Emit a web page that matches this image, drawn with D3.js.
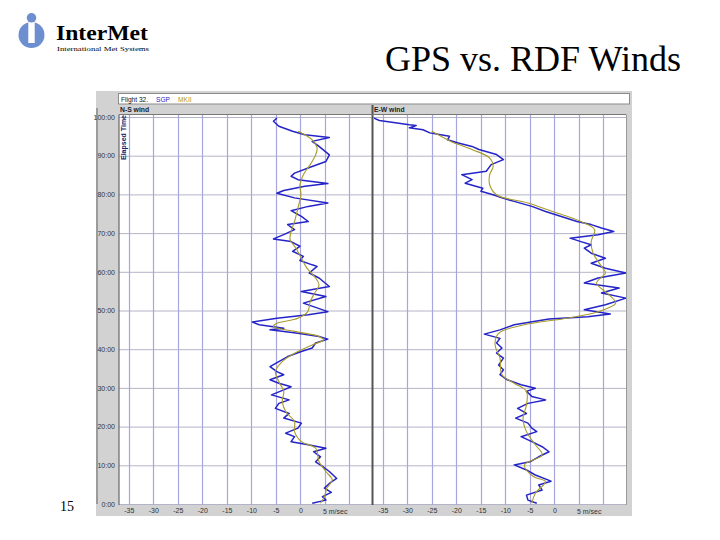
<!DOCTYPE html>
<html><head><meta charset="utf-8">
<script src="https://cdn.jsdelivr.net/npm/d3@7/dist/d3.min.js"></script>
<style>body{margin:0;background:#fff}svg{display:block}</style>
</head><body>
<script>
// ---- data ----
const timeTicks = [0,10,20,30,40,50,60,70,80,90,100];
const windTicks = [-35,-30,-25,-20,-15,-10,-5,0,5];
const gridWind = [-35,-30,-25,-20,-15,-10,-5,0,5,10];
const legendNames = ["SGP","MKII"];
const panelTitles = ["N-S wind","E-W wind"];
// [elapsed minutes, m/sec]
const nsSGP = [[99.7,-4.8],[98.9,-5.5],[97.6,-4.4],[96.3,-1.6],[95.4,0.9],[94.7,5.9],[93.7,2.4],[92.4,3.8],[90.2,5.9],[88.5,5.2],[87.2,2.4],[85.5,-1.2],[84.7,-1.9],[83.8,-0.5],[82.8,5.6],[82.1,0.9],[81.0,-3.4],[80.3,-4.8],[79.1,-1.2],[77.8,5.6],[76.9,1.6],[75.8,-1.9],[74.3,0.2],[73.0,1.6],[72.2,-2.6],[70.9,-1.2],[69.6,-3.4],[68.5,-5.5],[67.8,-1.9],[66.6,-0.1],[65.3,-1.6],[64.0,0.6],[62.9,-0.1],[61.8,2.4],[61.4,3.4],[59.7,1.8],[58.4,3.8],[56.2,5.9],[54.9,0.2],[53.6,5.2],[51.9,0.6],[49.7,5.6],[48.9,1.6],[48.0,-4.8],[47.0,-9.8],[46.3,-8.4],[45.4,-3.4],[45.0,-6.2],[44.1,-0.5],[43.3,3.8],[42.6,5.6],[41.6,3.1],[40.3,2.4],[39.4,0.2],[38.1,-2.6],[36.8,-4.4],[35.5,-6.2],[34.2,-4.8],[33.4,-3.4],[32.1,-6.2],[31.2,-4.4],[30.3,-1.9],[29.5,-3.4],[28.2,-5.9],[26.9,-2.3],[26.0,-4.4],[24.7,-5.1],[23.4,-2.3],[22.2,-3.4],[20.9,0.2],[19.6,-0.5],[18.3,-3.0],[17.4,-1.2],[16.1,-1.9],[15.3,1.6],[14.4,5.2],[13.5,2.7],[12.2,4.1],[10.9,3.1],[9.7,4.5],[8.4,5.9],[6.6,7.4],[5.3,5.9],[4.1,4.9],[3.0,6.3],[1.9,4.5],[1.0,5.2],[0.2,2.4]];
const nsMKII = [[96.3,-0.5],[94.1,2.4],[92.0,3.4],[90.2,3.1],[87.7,2.0],[85.1,0.6],[82.5,-0.1],[79.9,0.1],[76.5,-0.5],[73.0,-1.2],[70.4,-1.9],[68.3,-2.1],[66.1,-0.9],[63.5,0.2],[61.0,1.3],[58.4,3.1],[56.6,3.8],[54.5,2.9],[52.3,2.0],[49.7,1.5],[48.0,-0.5],[46.7,-4.8],[45.9,-5.5],[44.6,-1.2],[43.3,3.8],[42.4,4.7],[41.1,2.4],[39.4,-0.5],[36.8,-3.7],[34.2,-5.1],[31.6,-4.4],[29.1,-3.4],[26.5,-3.7],[23.9,-3.0],[21.3,-1.2],[18.7,-1.2],[16.1,0.2],[14.4,3.1],[10.9,3.8],[8.4,5.2],[6.2,6.5],[4.1,5.4],[1.9,4.9],[0.2,4.1]];
const ewSGP = [[99.7,-36.8],[99.1,-35.7],[98.9,-34.6],[98.0,-29.6],[97.8,-28.2],[97.2,-29.6],[96.7,-26.8],[95.9,-25.4],[95.4,-23.2],[95.0,-21.4],[94.1,-21.8],[93.3,-19.6],[92.4,-16.8],[91.6,-15.4],[90.3,-11.8],[89.0,-10.4],[87.7,-12.9],[86.0,-13.9],[85.1,-18.9],[83.8,-16.8],[82.9,-18.2],[81.6,-14.6],[80.8,-15.0],[79.9,-12.5],[79.1,-10.7],[78.2,-8.2],[76.9,-4.6],[75.6,-1.8],[74.3,1.4],[73.0,4.6],[72.2,7.5],[71.3,9.6],[70.4,12.1],[69.6,8.9],[68.7,3.2],[67.8,5.4],[67.0,7.5],[66.1,6.1],[64.8,7.5],[63.5,10.4],[62.2,7.5],[60.9,10.4],[59.7,14.6],[58.4,8.9],[57.1,6.1],[55.8,13.2],[54.5,9.6],[53.2,14.6],[51.5,10.4],[50.2,6.1],[49.1,11.4],[48.4,6.8],[47.8,-1.1],[47.2,-3.9],[46.3,-8.2],[45.0,-11.1],[43.9,-14.3],[42.8,-11.1],[41.6,-11.8],[40.3,-10.7],[39.0,-11.8],[37.7,-10.4],[35.9,-11.4],[34.7,-10.4],[33.4,-11.1],[32.1,-9.6],[30.8,-6.8],[29.9,-3.9],[29.1,-5.7],[27.8,-4.6],[26.9,-1.8],[26.0,-5.4],[24.7,-7.5],[23.4,-5.7],[22.2,-7.9],[20.9,-5.4],[19.6,-4.6],[18.7,-3.6],[17.4,-6.8],[16.1,-4.6],[14.8,-2.5],[13.5,-1.1],[12.2,-3.2],[10.9,-5.0],[10.1,-8.2],[8.8,-5.7],[7.5,-3.9],[5.9,-0.7],[4.9,-3.2],[3.6,-2.5],[2.3,-5.7],[1.0,-5.4],[0.2,-3.6]];
const ewMKII = [[96.3,-25.0],[93.7,-21.1],[91.6,-16.8],[89.4,-13.2],[87.2,-12.5],[85.1,-13.2],[82.5,-13.2],[79.9,-11.8],[77.8,-5.4],[75.6,-0.4],[73.0,5.4],[70.9,8.2],[67.8,7.5],[64.8,7.9],[61.4,9.6],[59.7,10.4],[57.1,8.6],[54.1,11.1],[51.9,12.5],[49.7,8.9],[48.0,2.5],[46.3,-6.1],[44.1,-11.4],[41.1,-12.1],[37.7,-11.1],[33.4,-10.7],[31.2,-8.2],[29.1,-5.7],[25.6,-5.7],[22.2,-6.4],[18.7,-5.7],[15.3,-3.9],[12.7,-2.5],[10.1,-6.1],[7.1,-4.3],[5.8,-1.8],[2.8,-3.9],[0.2,-4.6]];

// ---- drawing ----
const W = 720, H = 540;
const svg = d3.select("body").append("svg").attr("width", W).attr("height", H);
const sans = "'Liberation Sans', Arial, sans-serif";
const serif = "'Liberation Serif', 'Times New Roman', serif";
const SGPc = "#2424c8", MKc = "#a89a2c";

// logo
const logo = svg.append("g");
logo.append("circle").attr("cx", 31.5).attr("cy", 35).attr("r", 13).attr("fill", "#6d8fcf");
logo.append("rect").attr("x", 28.3).attr("y", 21.5).attr("width", 6.4).attr("height", 21.5).attr("fill", "#fff");
logo.append("circle").attr("cx", 31.5).attr("cy", 17.8).attr("r", 4.8).attr("fill", "#6d8fcf");
logo.append("text").attr("x", 56).attr("y", 40).attr("font-family", serif).attr("font-size", 21)
  .attr("font-weight", "bold").attr("textLength", 92).attr("lengthAdjust", "spacingAndGlyphs").text("InterMet");
logo.append("text").attr("x", 57).attr("y", 51).attr("font-family", serif).attr("font-size", 7)
  .attr("textLength", 92).attr("lengthAdjust", "spacingAndGlyphs").text("International Met Systems");

svg.append("text").attr("x", 385).attr("y", 71).attr("font-family", serif).attr("font-size", 36)
  .text("GPS vs. RDF Winds");
svg.append("text").attr("x", 60).attr("y", 511).attr("font-family", serif).attr("font-size", 14)
  .text("15");

// chart frame
svg.append("rect").attr("x", 96).attr("y", 91).attr("width", 536).attr("height", 425).attr("fill", "#d2d2d2");
svg.append("line").attr("x1", 97).attr("x2", 97).attr("y1", 108).attr("y2", 504).attr("stroke", "#888").attr("stroke-width", 1.5);
svg.append("rect").attr("x", 118.5).attr("y", 93.5).attr("width", 511).attr("height", 10.5)
  .attr("fill", "#fff").attr("stroke", "#8a8a8a");
const hdr = svg.append("text").attr("x", 121).attr("y", 101.5).attr("font-family", sans).attr("font-size", 6.6);
hdr.append("tspan").attr("fill", "#111").text("Flight 32.");
hdr.append("tspan").attr("x", 156).attr("fill", SGPc).text(legendNames[0]);
hdr.append("tspan").attr("x", 178).attr("fill", MKc).text(legendNames[1]);

const yS = d3.scaleLinear().domain([0, 100]).range([504, 117]);
const plotTop = 114.5, plotBottom = 505;
const panels = [
  {x0: 119, x1: 372, data: [nsSGP, nsMKII]},
  {x0: 373, x1: 626, data: [ewSGP, ewMKII]}
];

panels.forEach((p, i) => {
  const xS = d3.scaleLinear().domain([-37, 14.6]).range([p.x0, p.x1]);
  const g = svg.append("g");
  g.append("rect").attr("x", p.x0).attr("y", plotTop).attr("width", p.x1 - p.x0).attr("height", plotBottom - plotTop).attr("fill", "#fff");
  g.append("text").attr("x", p.x0 + 1).attr("y", 112).attr("font-family", sans).attr("font-size", 6.8)
    .attr("font-weight", "bold").attr("fill", "#222").text(panelTitles[i]);
  g.selectAll(".hg").data(timeTicks).join("line")
    .attr("x1", p.x0).attr("x2", p.x1).attr("y1", d => yS(d) + 0.5).attr("y2", d => yS(d) + 0.5)
    .attr("stroke", "#b4b4c8").attr("stroke-width", 1);
  g.selectAll(".vg").data(gridWind).join("line")
    .attr("x1", d => Math.round(xS(d)) + 0.5).attr("x2", d => Math.round(xS(d)) + 0.5)
    .attr("y1", plotTop).attr("y2", plotBottom)
    .attr("stroke", "#a6a6dc").attr("stroke-width", 1.2);
  const ax = d3.axisBottom(xS).tickValues(windTicks).tickSize(0).tickPadding(3)
    .tickFormat(d => d === 5 ? "" : String(d));
  const axg = g.append("g").attr("transform", `translate(0,${plotBottom})`).call(ax);
  axg.select(".domain").remove();
  axg.selectAll("text").attr("font-family", sans).attr("font-size", 7).attr("fill", "#333");
  g.append("text").attr("x", xS(5) - 2).attr("y", 513.5).attr("font-family", sans).attr("font-size", 7)
    .attr("fill", "#333").text("5 m/sec");
  const rough = d3.line().x(d => xS(d[1])).y(d => yS(d[0])).curve(d3.curveLinear);
  const smooth = d3.line().x(d => xS(d[1])).y(d => yS(d[0])).curve(d3.curveCatmullRom);
  g.append("path").datum(p.data[0]).attr("d", rough).attr("fill", "none").attr("stroke", SGPc)
    .attr("stroke-width", 1.5).attr("stroke-linejoin", "round");
  g.append("path").datum(p.data[1]).attr("d", smooth).attr("fill", "none").attr("stroke", MKc).attr("stroke-width", 1.1);
});

svg.append("line").attr("x1", 119).attr("x2", 119).attr("y1", plotTop).attr("y2", plotBottom).attr("stroke", "#666").attr("stroke-width", 1.2);
svg.append("line").attr("x1", 372.5).attr("x2", 372.5).attr("y1", 105).attr("y2", plotBottom).attr("stroke", "#555").attr("stroke-width", 2);
svg.append("line").attr("x1", 119).attr("x2", 626).attr("y1", plotTop).attr("y2", plotTop).attr("stroke", "#777").attr("stroke-width", 1);
svg.append("line").attr("x1", 626.5).attr("x2", 626.5).attr("y1", plotTop).attr("y2", plotBottom).attr("stroke", "#999").attr("stroke-width", 1);

const yax = d3.axisLeft(yS).tickValues(timeTicks).tickSize(0).tickPadding(2).tickFormat(d => d + ":00");
const yg = svg.append("g").attr("transform", "translate(117,0)").call(yax);
yg.select(".domain").remove();
yg.selectAll("text").attr("font-family", sans).attr("font-size", 7).attr("fill", "#333");

svg.append("text").attr("transform", "translate(126,160) rotate(-90)").attr("font-family", sans)
  .attr("font-size", 7).attr("font-weight", "bold").attr("fill", "#1a1a66").text("Elapsed Time");
</script>
</body></html>
